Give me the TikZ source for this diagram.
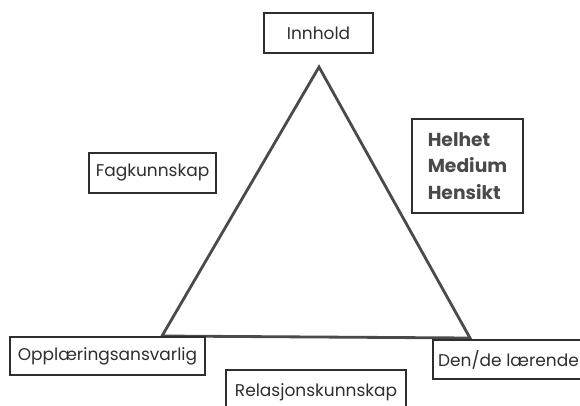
\documentclass[tikz,border=0pt]{standalone}
\usepackage{fontspec}
\setmainfont{Poppins}
\usetikzlibrary{positioning}
\definecolor{cink}{HTML}{2E2E2E}
\definecolor{cgrey}{HTML}{4A4A4A}
\tikzset{
  every picture/.style={line width=1.2pt},
  box/.style={draw=cink, text=cink, align=center, inner sep=0pt, font=\fontsize{14.5}{16}\selectfont},
  edge/.style={draw=cgrey, line width=2.4pt, line join=miter},
}
\begin{document}
\begin{tikzpicture}[x=0.3mm, y=-0.3mm]
  \useasboundingbox (0,0) rectangle (580,405);
  % triangle corners
  \coordinate (top) at (319,67);
  \coordinate (lft) at (162,336);
  \coordinate (rgt) at (470,338);
  \draw[edge] (top) -- (lft) -- (rgt) -- cycle;
  \node[box, minimum width=109*0.3mm, minimum height=40*0.3mm] (innhold) at (318.5,33) {Innhold};
  \node[box, minimum width=127*0.3mm, minimum height=40*0.3mm] (fag) at (152.5,173) {Fagkunnskap};
  \node[box, minimum width=111*0.3mm, minimum height=94*0.3mm, font=\fontsize{16}{22.5}\selectfont\bfseries, text=cgrey, align=left] (hel) at (467.5,166) {Helhet\\Medium\\Hensikt};
  \node[box, minimum width=195*0.3mm, minimum height=38*0.3mm] (oppl) at (107.5,356) {Opplæringsansvarlig};
  \node[box, minimum width=151*0.3mm, minimum height=39*0.3mm] (laer) at (508.5,359.5) {Den/de lærende};
  \node[box, minimum width=180*0.3mm, minimum height=44*0.3mm] (rel) at (316,392) {Relasjonskunnskap};
\end{tikzpicture}
\end{document}
